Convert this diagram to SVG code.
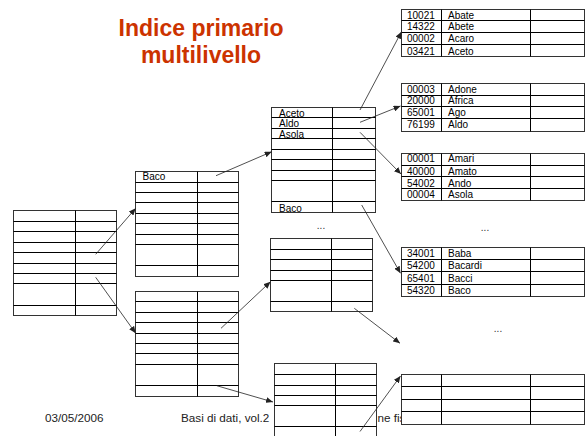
<svg xmlns="http://www.w3.org/2000/svg" width="587" height="436" viewBox="0 0 587 436">
<style>
.bg{fill:#fff}
.tb{fill:#fff;stroke:#333;stroke-width:1}
.ln{stroke:#000;stroke-width:1}
.t{font-family:"Liberation Sans",Arial,sans-serif;font-size:10px;fill:#000}
.ft{font-family:"Liberation Sans",Arial,sans-serif;font-size:11.7px;fill:#222}
.ttl{font-family:"Liberation Sans",Arial,sans-serif;font-size:23px;font-weight:bold;fill:#CC3300;text-anchor:middle}
.c{stroke:#222;stroke-width:0.8;fill:none;marker-end:url(#ah)}
.dots{font-family:"Liberation Sans",Arial,sans-serif;font-size:10px;fill:#333;text-anchor:middle}
</style>
<defs>
<marker id="ah" markerWidth="7" markerHeight="6" refX="7" refY="3" orient="auto" markerUnits="userSpaceOnUse">
<path d="M0,0 L7,3 L0,6 z" fill="#222"/>
</marker>
</defs>
<rect class="bg" x="0" y="0" width="587" height="436"/>

<g id="title">
<text class="ttl" x="201" y="36">Indice primario</text>
<text class="ttl" x="201" y="63">multilivello</text>
</g>

<g id="footer">
<text class="ft" x="45" y="422">03/05/2006</text>
<text class="ft" x="181" y="422">Basi di dati, vol.2</text>
<text class="ft" x="377.5" y="422">ne fis</text>
</g>

<g id="root">
<rect class="tb" x="13.5" y="210.5" width="103" height="105"/>
<path class="ln" d="M75.5,210.5V315.5 M13.5,221.5H116.5 M13.5,231.5H116.5 M13.5,242.5H116.5 M13.5,252.5H116.5 M13.5,263.5H116.5 M13.5,273.5H116.5 M13.5,283.5H116.5 M13.5,305.5H116.5"/>
</g>

<g id="level1a">
<rect class="tb" x="135.5" y="171.5" width="103" height="105"/>
<path class="ln" d="M197.5,171.5V276.5 M135.5,182.5H238.5 M135.5,192.5H238.5 M135.5,202.5H238.5 M135.5,213.5H238.5 M135.5,223.5H238.5 M135.5,234.5H238.5 M135.5,244.5H238.5 M135.5,265.5H238.5"/>
<text class="t" x="142.5" y="180">Baco</text>
</g>

<g id="level1b">
<rect class="tb" x="135.5" y="291.5" width="103" height="105"/>
<path class="ln" d="M197.5,291.5V396.5 M135.5,301.5H238.5 M135.5,312.5H238.5 M135.5,322.5H238.5 M135.5,333.5H238.5 M135.5,343.5H238.5 M135.5,353.5H238.5 M135.5,364.5H238.5 M135.5,385.5H238.5"/>
</g>

<g id="level2a">
<rect class="tb" x="271.5" y="107.5" width="104" height="105"/>
<path class="ln" d="M332.5,107.5V212.5 M271.5,117.5H375.5 M271.5,128.5H375.5 M271.5,138.5H375.5 M271.5,149.5H375.5 M271.5,159.5H375.5 M271.5,170.5H375.5 M271.5,180.5H375.5 M271.5,201.5H375.5"/>
<text class="t" x="279" y="116.7">Aceto</text>
<text class="t" x="279" y="126.7">Aldo</text>
<text class="t" x="279" y="138">Asola</text>
<text class="t" x="279" y="211.5">Baco</text>
</g>

<g id="level2b">
<rect class="tb" x="270.5" y="238.5" width="102" height="73"/>
<path class="ln" d="M331.5,238.5V311.5 M270.5,249.5H372.5 M270.5,259.5H372.5 M270.5,270.5H372.5 M270.5,280.5H372.5 M270.5,301.5H372.5"/>
</g>

<g id="level2c">
<rect class="tb" x="274.5" y="363.5" width="102" height="82"/>
<path class="ln" d="M335.5,363.5V445 M274.5,374.5H376.5 M274.5,385.5H376.5 M274.5,395.5H376.5 M274.5,405.5H376.5 M274.5,426.5H376.5"/>
</g>

<g id="data1">
<rect class="tb" x="401.5" y="9.5" width="183" height="47"/>
<path class="ln" d="M441.5,9.5V56.5 M530.5,9.5V56.5 M401.5,20.5H584.5 M401.5,32.5H584.5 M401.5,44.5H584.5"/>
<text class="t" x="407" y="18.5">10021</text><text class="t" x="448" y="18.5">Abate</text>
<text class="t" x="407" y="30">14322</text><text class="t" x="448" y="30">Abete</text>
<text class="t" x="407" y="41.8">00002</text><text class="t" x="448" y="41.8">Acaro</text>
<text class="t" x="407" y="54.8">03421</text><text class="t" x="448" y="54.8">Aceto</text>
</g>

<g id="data2">
<rect class="tb" x="401.5" y="83.5" width="183" height="48"/>
<path class="ln" d="M441.5,83.5V131.5 M530.5,83.5V131.5 M401.5,95.5H584.5 M401.5,106.5H584.5 M401.5,118.5H584.5"/>
<text class="t" x="407" y="92.8">00003</text><text class="t" x="448" y="92.8">Adone</text>
<text class="t" x="407" y="104">20000</text><text class="t" x="448" y="104">Africa</text>
<text class="t" x="407" y="116">65001</text><text class="t" x="448" y="116">Ago</text>
<text class="t" x="407" y="128.3">76199</text><text class="t" x="448" y="128.3">Aldo</text>
</g>

<g id="data3">
<rect class="tb" x="401.5" y="153.5" width="183" height="47"/>
<path class="ln" d="M441.5,153.5V200.5 M530.5,153.5V200.5 M401.5,165.5H584.5 M401.5,176.5H584.5 M401.5,188.5H584.5"/>
<text class="t" x="407" y="162">00001</text><text class="t" x="448" y="162">Amari</text>
<text class="t" x="407" y="175">40000</text><text class="t" x="448" y="175">Amato</text>
<text class="t" x="407" y="186.7">54002</text><text class="t" x="448" y="186.7">Ando</text>
<text class="t" x="407" y="198.3">00004</text><text class="t" x="448" y="198.3">Asola</text>
</g>

<g id="data4">
<rect class="tb" x="401.5" y="247.5" width="183" height="49"/>
<path class="ln" d="M441.5,247.5V296.5 M530.5,247.5V296.5 M401.5,259.5H584.5 M401.5,271.5H584.5 M401.5,284.5H584.5"/>
<text class="t" x="407" y="257.3">34001</text><text class="t" x="448" y="257.3">Baba</text>
<text class="t" x="407" y="269.3">54200</text><text class="t" x="448" y="269.3">Bacardi</text>
<text class="t" x="407" y="281.7">65401</text><text class="t" x="448" y="281.7">Bacci</text>
<text class="t" x="407" y="294">54320</text><text class="t" x="448" y="294">Baco</text>
</g>

<g id="data5">
<rect class="tb" x="401.5" y="374.5" width="183" height="50"/>
<path class="ln" d="M441.5,374.5V424.5 M530.5,374.5V424.5 M401.5,386.5H584.5 M401.5,399.5H584.5 M401.5,411.5H584.5"/>
</g>

<g id="ellipses">
<text class="dots" x="321" y="229">...</text>
<text class="dots" x="485" y="231">...</text>
<text class="dots" x="498" y="332">...</text>
</g>

<g id="connectors">
<line class="c" x1="95.7" y1="254.3" x2="135.7" y2="208.3"/>
<line class="c" x1="95.7" y1="277.3" x2="135.7" y2="333.3"/>
<line class="c" x1="216" y1="175.7" x2="271.7" y2="151.7"/>
<line class="c" x1="221" y1="328.3" x2="270.5" y2="281.7"/>
<line class="c" x1="216.7" y1="385.7" x2="273" y2="402"/>
<line class="c" x1="360" y1="110" x2="401.5" y2="31.7"/>
<line class="c" x1="360" y1="122.3" x2="400.5" y2="106"/>
<line class="c" x1="360" y1="132.3" x2="401" y2="174"/>
<line class="c" x1="361.7" y1="205" x2="400.5" y2="273.3"/>
<line class="c" x1="354.3" y1="308.3" x2="400" y2="343.3"/>
<line class="c" x1="360" y1="431.5" x2="400.5" y2="376"/>
</g>
</svg>
